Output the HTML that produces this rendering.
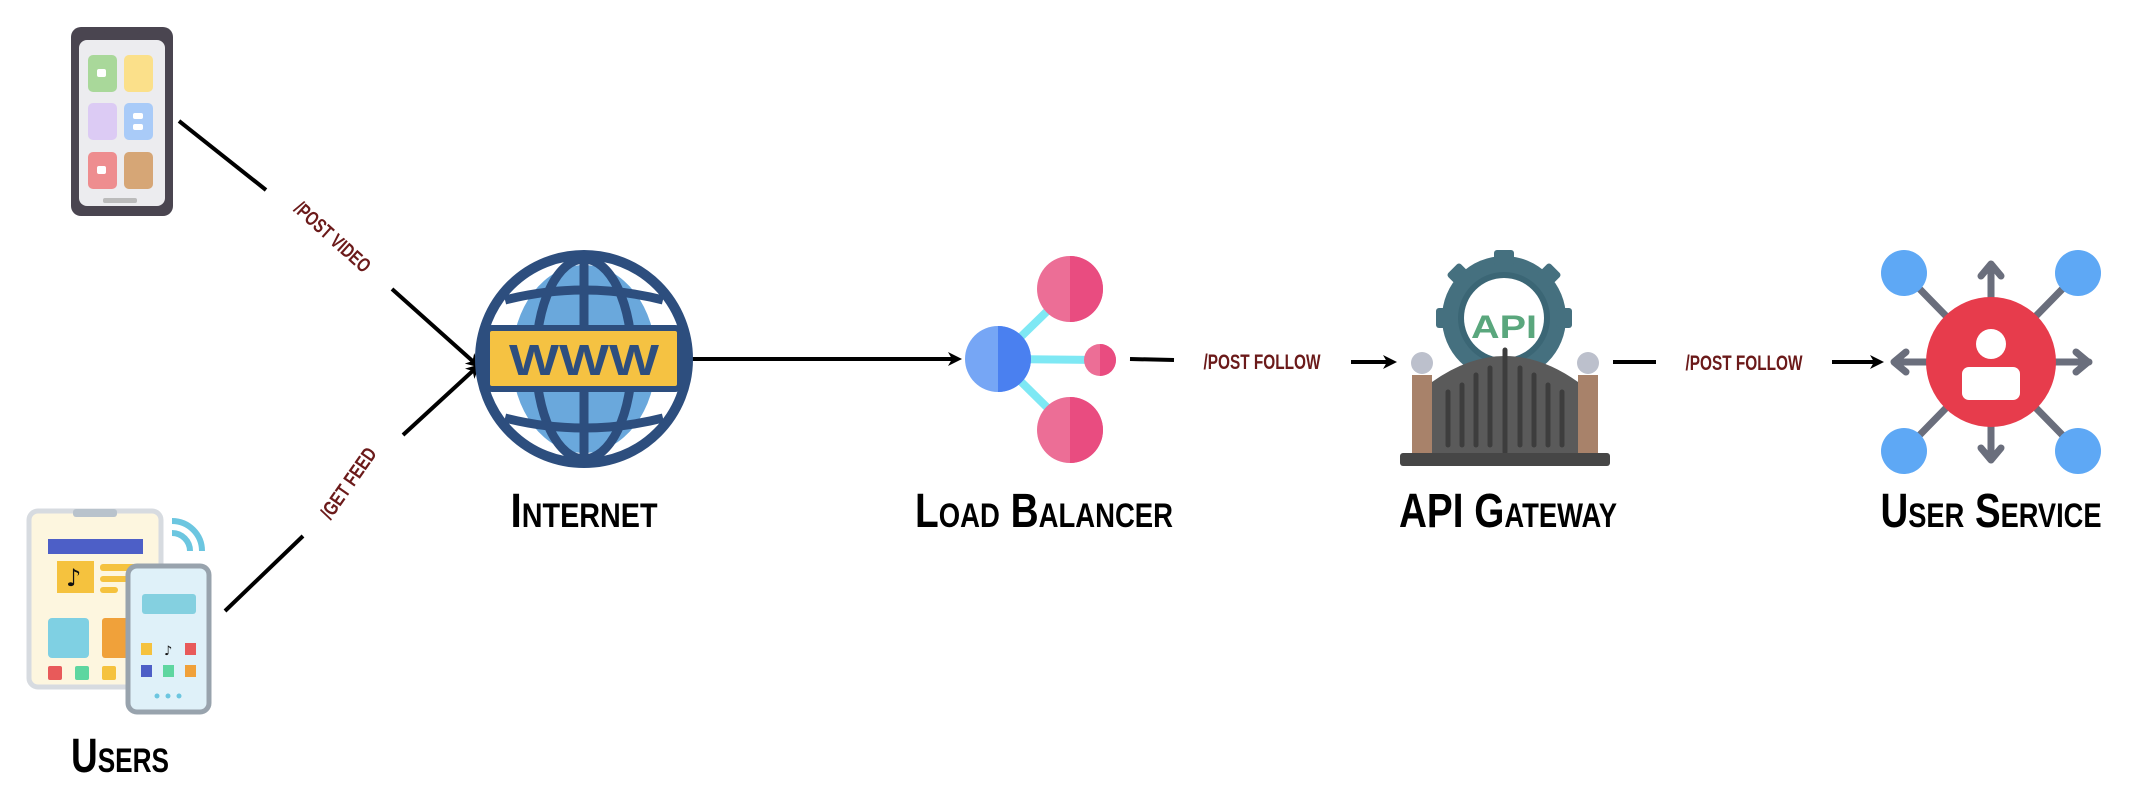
<!DOCTYPE html>
<html><head><meta charset="utf-8"><style>
html,body{margin:0;padding:0;background:#fff;width:2140px;height:800px;overflow:hidden}
svg{display:block}
.big{font-family:"Liberation Sans",sans-serif;font-weight:bold;font-variant:small-caps;fill:#000}
.el{font-family:"Liberation Sans",sans-serif;font-weight:bold;font-variant:small-caps;fill:#6b1a1a}
</style></head><body>
<svg width="2140" height="800" viewBox="0 0 2140 800" xmlns="http://www.w3.org/2000/svg">
<defs>
<marker id="ah" markerWidth="14" markerHeight="14" refX="10" refY="7" orient="auto" markerUnits="userSpaceOnUse">
<path d="M0,0 L14,7 L0,14 L4,7 Z" fill="#000"/></marker>
<marker id="ah2" markerWidth="14" markerHeight="14" refX="10" refY="7" orient="auto" markerUnits="userSpaceOnUse">
<path d="M0,0 L14,7 L0,14 L4,7 Z" fill="#000"/></marker>
</defs>

<!-- top phone -->
<rect x="71" y="27" width="102" height="189" rx="10" fill="#4a4550"/>
<rect x="79" y="40" width="86" height="166" rx="8" fill="#ececef"/>
<rect x="104" y="27" width="36" height="7" rx="3" fill="#4a4550"/>
<rect x="88" y="55" width="29" height="37" rx="5" fill="#a9d89a"/>
<rect x="124" y="55" width="29" height="37" rx="5" fill="#fbe08a"/>
<rect x="88" y="103" width="29" height="37" rx="5" fill="#dccbf4"/>
<rect x="124" y="103" width="29" height="37" rx="5" fill="#a9cbf8"/>
<rect x="88" y="152" width="29" height="37" rx="5" fill="#ee8d8f"/>
<rect x="124" y="152" width="29" height="37" rx="5" fill="#d6a676"/>
<rect x="97" y="69" width="9" height="8" rx="2" fill="#fff"/>
<rect x="97" y="166" width="9" height="8" rx="2" fill="#fff"/>
<rect x="133" y="113" width="10" height="6" rx="2" fill="#fff"/>
<rect x="133" y="124" width="10" height="6" rx="2" fill="#fff"/>
<rect x="103" y="198" width="34" height="5" rx="2" fill="#bbb"/>

<!-- users icon -->
<path d="M172,533 a18,18 0 0 1 18,18 M172,521 a30,30 0 0 1 30,30" stroke="#6cc6e0" stroke-width="6" fill="none"/>
<rect x="29" y="511" width="132" height="176" rx="9" fill="#fdf6df" stroke="#d7dbe0" stroke-width="5"/>
<rect x="73" y="509" width="44" height="8" rx="3" fill="#b9c3cc"/>
<rect x="48" y="539" width="95" height="15" fill="#4d5fc7"/>
<rect x="57" y="561" width="37" height="32" fill="#f5c23e"/>
<text x="66" y="586" font-family="DejaVu Sans" font-size="24" font-weight="bold" fill="#111">♪</text>
<rect x="100" y="564" width="40" height="7" rx="3" fill="#f5c23e"/>
<rect x="100" y="576" width="30" height="6" rx="3" fill="#f5c23e"/>
<rect x="100" y="587" width="18" height="6" rx="3" fill="#f5c23e"/>
<rect x="48" y="618" width="41" height="40" rx="4" fill="#7fd0e3"/>
<rect x="102" y="618" width="30" height="40" rx="3" fill="#f0a13a"/>
<rect x="48" y="666" width="14" height="14" rx="2" fill="#e85a5a"/>
<rect x="75" y="666" width="14" height="14" rx="2" fill="#5ed6a0"/>
<rect x="102" y="666" width="14" height="14" rx="2" fill="#f5c23e"/>
<rect x="128" y="566" width="81" height="146" rx="9" fill="#dff1f9" stroke="#98a3ad" stroke-width="5"/>
<rect x="142" y="594" width="54" height="20" rx="3" fill="#84d0e0"/>
<rect x="141" y="643" width="11" height="12" fill="#f5c23e"/>
<text x="164" y="655" font-family="DejaVu Sans" font-size="13" fill="#111">♪</text>
<rect x="185" y="643" width="11" height="12" fill="#e85a5a"/>
<rect x="141" y="665" width="11" height="12" fill="#4d5fc7"/>
<rect x="163" y="665" width="11" height="12" fill="#5ed6a0"/>
<rect x="185" y="665" width="11" height="12" fill="#f0a13a"/>
<circle cx="157" cy="696" r="2.5" fill="#6cc6e0"/><circle cx="168" cy="696" r="2.5" fill="#6cc6e0"/><circle cx="179" cy="696" r="2.5" fill="#6cc6e0"/>

<!-- connectors -->
<g stroke="#000" stroke-width="4" fill="none">
<line x1="179" y1="121" x2="266" y2="190"/>
<line x1="392" y1="289" x2="477" y2="365" marker-end="url(#ah)"/>
<line x1="225" y1="611" x2="303" y2="536"/>
<line x1="403" y1="435" x2="477" y2="367" marker-end="url(#ah)"/>
<line x1="692" y1="359" x2="958" y2="359" marker-end="url(#ah2)"/>
<line x1="1130" y1="359" x2="1174" y2="360"/>
<line x1="1351" y1="362" x2="1393" y2="362" marker-end="url(#ah2)"/>
<line x1="1613" y1="362" x2="1656" y2="362"/>
<line x1="1832" y1="362" x2="1880" y2="362" marker-end="url(#ah2)"/>
</g>
<text class="el" font-size="20" transform="translate(328,242) rotate(42)" text-anchor="middle" textLength="95" lengthAdjust="spacingAndGlyphs">/POST VIDEO</text>
<text class="el" font-size="20" transform="translate(354,487) rotate(-55)" text-anchor="middle" textLength="82" lengthAdjust="spacingAndGlyphs">/GET FEED</text>
<text class="el" font-size="21" x="1262" y="369" text-anchor="middle" textLength="117" lengthAdjust="spacingAndGlyphs">/POST FOLLOW</text>
<text class="el" font-size="21" x="1744" y="370" text-anchor="middle" textLength="117" lengthAdjust="spacingAndGlyphs">/POST FOLLOW</text>

<!-- globe -->
<circle cx="584" cy="359" r="104" fill="#fff" stroke="#2d4e7e" stroke-width="10"/>
<ellipse cx="584" cy="359" rx="72" ry="94" fill="#6aa8dc"/>
<g stroke="#2d4e7e" stroke-width="9" fill="none">
<ellipse cx="584" cy="359" rx="48" ry="100"/>
<line x1="584" y1="255" x2="584" y2="463"/>
<path d="M505,300 Q584,280 663,300"/>
<path d="M505,418 Q584,438 663,418"/>
</g>
<rect x="487" y="328" width="193" height="61" rx="5" fill="#f5c242" stroke="#2d4e7e" stroke-width="6"/>
<text x="584" y="375" font-family="Liberation Sans" font-weight="bold" font-size="44" fill="#2d4e7e" text-anchor="middle" textLength="150" lengthAdjust="spacingAndGlyphs">WWW</text>

<!-- load balancer -->
<g stroke="#7ee8f4" stroke-width="8">
<line x1="998" y1="359" x2="1070" y2="289"/>
<line x1="998" y1="359" x2="1070" y2="430"/>
<line x1="998" y1="359" x2="1100" y2="360"/>
</g>
<circle cx="998" cy="359" r="33" fill="#76a6f5"/>
<path d="M998,326 a33,33 0 0 1 0,66 Z" fill="#4a80f0"/>
<circle cx="1070" cy="289" r="33" fill="#ec6e96"/>
<path d="M1070,256 a33,33 0 0 1 0,66 Z" fill="#e94c80"/>
<circle cx="1070" cy="430" r="33" fill="#ec6e96"/>
<path d="M1070,397 a33,33 0 0 1 0,66 Z" fill="#e94c80"/>
<circle cx="1100" cy="360" r="16" fill="#ec6e96"/>
<path d="M1100,344 a16,16 0 0 1 0,32 Z" fill="#e94c80"/>

<!-- API gateway -->
<g fill="#45707f">
<circle cx="1504" cy="318" r="62"/>
<rect x="1494" y="250" width="20" height="16" rx="3"/>
<rect x="1494" y="370" width="20" height="16" rx="3"/>
<rect x="1436" y="308" width="16" height="20" rx="3"/>
<rect x="1556" y="308" width="16" height="20" rx="3"/>
<rect x="1450" y="266" width="18" height="18" rx="3" transform="rotate(45 1459 275)"/>
<rect x="1540" y="266" width="18" height="18" rx="3" transform="rotate(45 1549 275)"/>
</g>
<circle cx="1504" cy="318" r="46" fill="#3b6675"/>
<circle cx="1504" cy="318" r="40" fill="#fff"/>
<text x="1504" y="338" font-family="Liberation Sans" font-weight="bold" font-size="32" fill="#5aa77d" text-anchor="middle" textLength="66" lengthAdjust="spacingAndGlyphs">API</text>
<rect x="1412" y="375" width="20" height="78" fill="#a8826a"/>
<rect x="1578" y="375" width="20" height="78" fill="#a8826a"/>
<circle cx="1422" cy="363" r="11" fill="#bcc0cc"/>
<circle cx="1588" cy="363" r="11" fill="#bcc0cc"/>
<path d="M1432,382 Q1505,330 1578,382 L1578,453 L1432,453 Z" fill="#5a5a5a"/>
<g stroke="#3d3d3d" stroke-width="5" stroke-linecap="round">
<line x1="1505" y1="350" x2="1505" y2="452"/>
<line x1="1448" y1="392" x2="1448" y2="445"/><line x1="1462" y1="385" x2="1462" y2="445"/>
<line x1="1476" y1="375" x2="1476" y2="445"/><line x1="1490" y1="368" x2="1490" y2="445"/>
<line x1="1520" y1="368" x2="1520" y2="445"/><line x1="1534" y1="375" x2="1534" y2="445"/>
<line x1="1548" y1="385" x2="1548" y2="445"/><line x1="1562" y1="392" x2="1562" y2="445"/>
</g>
<rect x="1400" y="453" width="210" height="13" rx="3" fill="#464646"/>

<!-- user service -->
<g stroke="#6a6e7c" stroke-width="7" fill="none" stroke-linecap="round" stroke-linejoin="round">
<line x1="1904" y1="273" x2="2078" y2="451"/>
<line x1="2078" y1="273" x2="1904" y2="451"/>
<line x1="1991" y1="265" x2="1991" y2="459"/>
<line x1="1895" y1="362" x2="2089" y2="362"/>
<path d="M1981,276 L1991,264 L2001,276"/>
<path d="M1981,448 L1991,460 L2001,448"/>
<path d="M1906,352 L1894,362 L1906,372"/>
<path d="M2076,352 L2088,362 L2076,372"/>
</g>
<circle cx="1904" cy="273" r="23" fill="#5ea8f5"/>
<circle cx="2078" cy="273" r="23" fill="#5ea8f5"/>
<circle cx="1904" cy="451" r="23" fill="#5ea8f5"/>
<circle cx="2078" cy="451" r="23" fill="#5ea8f5"/>
<circle cx="1991" cy="362" r="65" fill="#e73c4c"/>
<circle cx="1991" cy="344" r="15" fill="#fff"/>
<rect x="1962" y="367" width="58" height="33" rx="7" fill="#fff"/>

<!-- labels -->
<text class="big" font-size="48" x="120" y="772" text-anchor="middle" textLength="98" lengthAdjust="spacingAndGlyphs">Users</text>
<text class="big" font-size="48" x="584" y="527" text-anchor="middle" textLength="147" lengthAdjust="spacingAndGlyphs">Internet</text>
<text class="big" font-size="48" x="1044" y="527" text-anchor="middle" textLength="258" lengthAdjust="spacingAndGlyphs">Load Balancer</text>
<text class="big" font-size="48" x="1508" y="527" text-anchor="middle" textLength="218" lengthAdjust="spacingAndGlyphs">API Gateway</text>
<text class="big" font-size="48" x="1991" y="527" text-anchor="middle" textLength="221" lengthAdjust="spacingAndGlyphs">User Service</text>
</svg>
</body></html>
